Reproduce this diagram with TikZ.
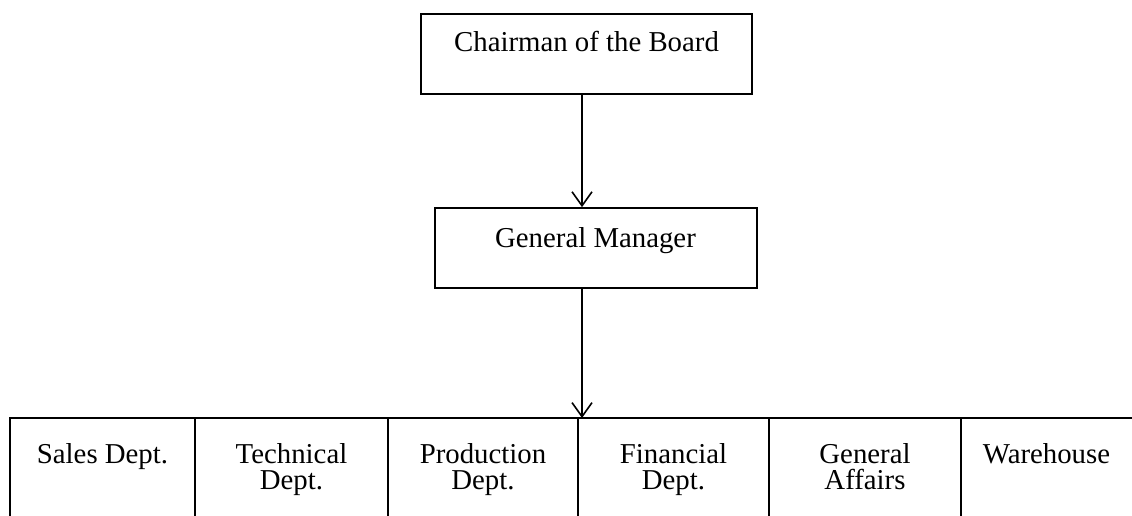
\documentclass[tikz,border=0pt]{standalone}
\usepackage{fontspec}
\setmainfont{Liberation Serif}
\usetikzlibrary{arrows.meta}
\begin{document}
\begin{tikzpicture}[x=1pt,y=1pt,
  box/.style={draw, line width=1.7pt, inner sep=0pt},
  lbl/.style={anchor=base, inner sep=0pt, align=center, font=\fontsize{28.8}{26}\selectfont},
  arr/.style={line width=1.6pt, -{Straight Barb[length=14pt,width=20pt,line width=1.6pt]}},
  grid/.style={line width=1.7pt}]
\useasboundingbox (0,0) rectangle (1132,-516);
% top boxes
\node[box, minimum width=331pt, minimum height=80pt] (chair) at (586.5,-54) {};
\node[lbl] (chairt) at (586.5,-52) {Chairman of the Board};
\node[box, minimum width=322pt, minimum height=80pt] (gm) at (596,-248) {};
\node[lbl] (gmt) at (595.5,-247) {General Manager};
% axis for connectors
\coordinate (axis) at (582,0);
% bottom row
\coordinate (rowL) at (10,-418);
\coordinate (rowR) at (1132,-418);
\coordinate (rowtop) at (582,-418);
\draw[grid] ([xshift=-0.85pt]rowL) -- (rowR);
\foreach \x in {10,195,388,578,769,961}{
  \draw[grid] (\x,-418) -- (\x,-516);
}
\node[lbl] (sales) at (102.5,-463) {Sales Dept.};
\node[lbl] (tech) at (291.5,-489) {Technical\\Dept.};
\node[lbl] (prod) at (483,-489) {Production\\Dept.};
\node[lbl] (fin) at (673.5,-489) {Financial\\Dept.};
\node[lbl] (ga) at (865,-489) {General\\Affairs};
\node[lbl] (wh) at (1046.5,-463) {Warehouse};
% connectors
\draw[arr] (chair.south -| axis) -- (gm.north -| axis);
\draw[arr] (gm.south -| axis) -- (rowtop);
\end{tikzpicture}
\end{document}
